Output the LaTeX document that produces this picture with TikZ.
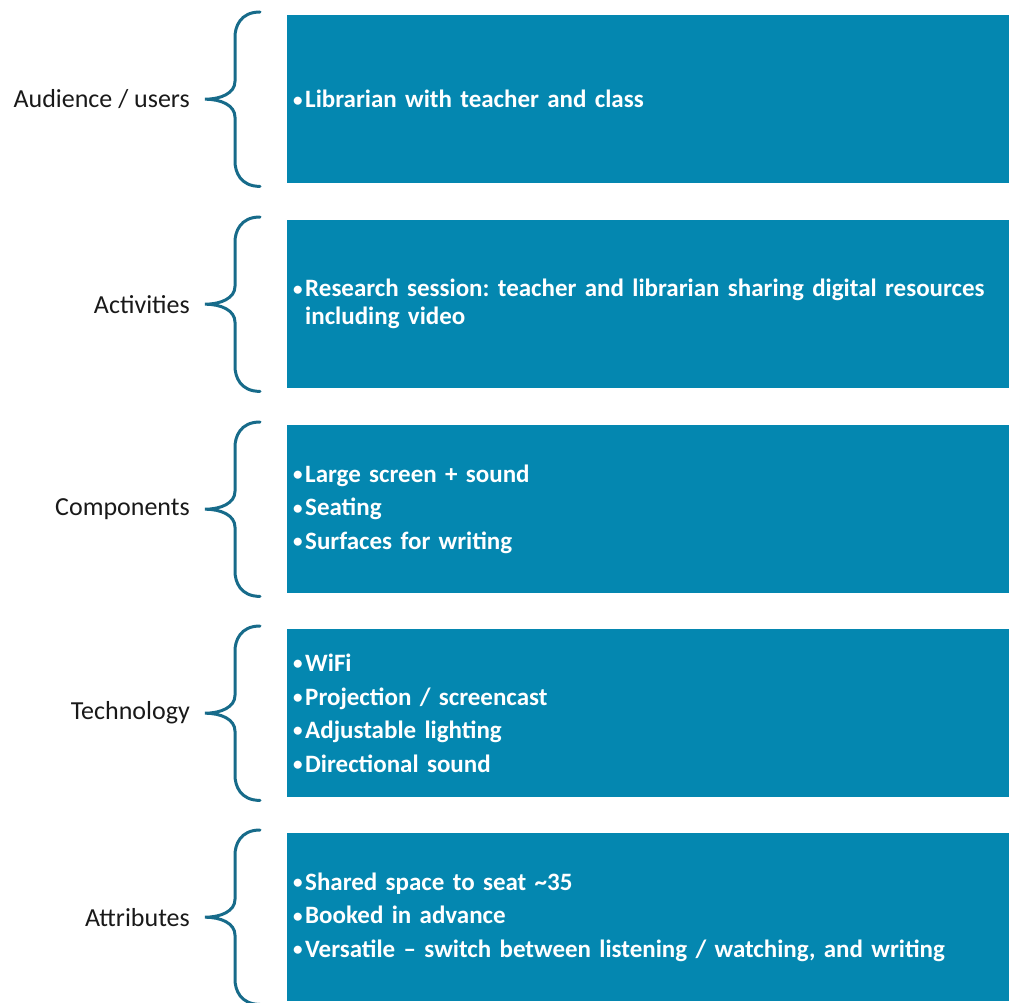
\documentclass[tikz,border=0pt]{standalone}
\usepackage{fontspec}
\setmainfont{Carlito}
\usetikzlibrary{calc}
\definecolor{boxblue}{RGB}{4,135,176}
\definecolor{bracecol}{RGB}{23,107,138}
\newcommand\bul{\makebox[12pt][l]{\raisebox{1.8pt}{\fontsize{19}{19}\selectfont•}}}
\newcommand\drawbrace[1]{%
  \draw[bracestyle] ($(#1.north west)+(-27,3)$) .. controls +(-20,0) and +(0,10) .. ($(#1.north west)+(-52,-22)$)
    -- ($(#1.west)+(-52,18)$) .. controls +(0,-12) and +(16,0) .. ($(#1.west)+(-82,0)$)
    .. controls +(16,0) and +(0,12) .. ($(#1.west)+(-52,-18)$)
    -- ($(#1.south west)+(-52,22)$) .. controls +(0,-10) and +(-20,0) .. ($(#1.south west)+(-27,-3)$);}
\begin{document}
\frenchspacing
\begin{tikzpicture}[x=1pt,y=1pt,
  box/.style={fill=boxblue, draw=none, anchor=north west, minimum width=722pt, minimum height=168pt,
    text width=710pt, inner xsep=6pt, inner ysep=0pt, align=left, text=white,
    font=\fontsize{25}{28}\selectfont\bfseries\frenchspacing},
  lab/.style={anchor=east, inner sep=0pt, font=\fontsize{26}{28}\selectfont, text=black!90},
  bracestyle/.style={draw=bracecol, line width=3pt, line cap=round}]
\useasboundingbox (0,0) rectangle (1009,-1003);
\node[box] (b1) at (287,-15) {\bul Librarian with teacher and class};
\node[box] (b2) at (287,-220) {\bul Research session: teacher and librarian sharing digital resources\\\hspace*{12pt}including video};
\node[box] (b3) at (287,-425) {\bul Large screen + sound\\[5.5pt]\bul Seating\\[5.5pt]\bul Surfaces for writing};
\node[box] (b4) at (287,-629) {\bul WiFi\\[5.5pt]\bul Projection / screencast\\[5.5pt]\bul Adjustable lighting\\[5.5pt]\bul Directional sound};
\node[box] (b5) at (287,-833) {\bul Shared space to seat \textasciitilde35\\[5.5pt]\bul Booked in advance\\[5.5pt]\bul Versatile – switch between listening / watching, and writing};
\node[lab] (l1) at ($(b1.west)+(-97,0)$) {Audience / users};
\node[lab] (l2) at ($(b2.west)+(-97,0)$) {Activities};
\node[lab] (l3) at ($(b3.west)+(-97,0)$) {Components};
\node[lab] (l4) at ($(b4.west)+(-97,0)$) {Technology};
\node[lab] (l5) at ($(b5.west)+(-97,0)$) {Attributes};
\drawbrace{b1}
\drawbrace{b2}
\drawbrace{b3}
\drawbrace{b4}
\drawbrace{b5}
\end{tikzpicture}
\end{document}
